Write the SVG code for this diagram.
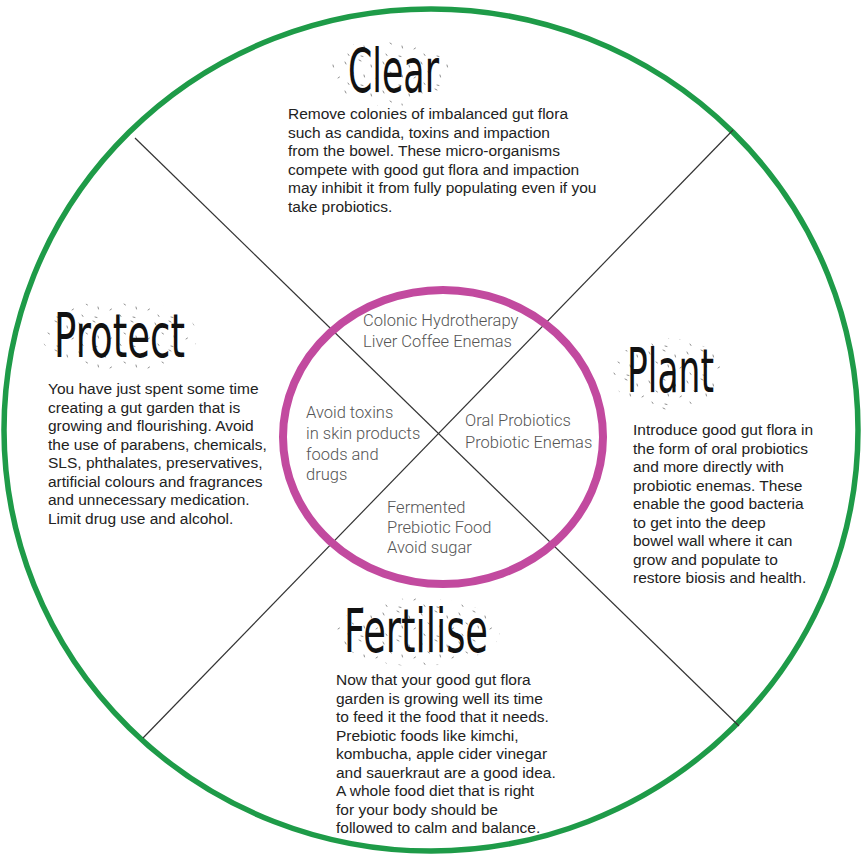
<svg xmlns="http://www.w3.org/2000/svg" width="865" height="860" viewBox="0 0 865 860">
<style>
.body{font-family:"Liberation Sans",Arial,sans-serif;font-size:15.5px;fill:#222;}
.inner{font-family:Roboto,"Open Sans",sans-serif;font-weight:300;font-size:16.5px;fill:#555;}
.title{font-family:"DejaVu Sans",sans-serif;font-size:60px;fill:#111;}
.div{stroke:#333;stroke-width:1.2;fill:none;}
.speck{opacity:0.6;}
</style>
<defs>
<pattern id="speck" width="38" height="29" patternUnits="userSpaceOnUse">
<g stroke="#444" stroke-width="1" stroke-linecap="round">
<line x1="3" y1="4" x2="4" y2="6"/>
<line x1="17" y1="2" x2="19" y2="3"/>
<line x1="29" y1="7" x2="29.5" y2="9"/>
<line x1="10" y1="14" x2="11.5" y2="15"/>
<line x1="22" y1="17" x2="22.5" y2="19"/>
<line x1="34" y1="20" x2="35.5" y2="19"/>
<line x1="6" y1="25" x2="7" y2="26.5"/>
<line x1="19" y1="27" x2="21" y2="27.5"/>
</g>
</pattern>
</defs>
<rect width="865" height="860" fill="#fff"/>
<ellipse cx="431" cy="430" rx="427" ry="421" fill="none" stroke="#1e9b48" stroke-width="5.5"/>
<g id="connectors">
<line class="div" x1="135" y1="138" x2="739" y2="726"/>
<line class="div" x1="733" y1="130" x2="143" y2="738"/>
</g>
<ellipse cx="443" cy="437" rx="160" ry="147" fill="none" stroke="#c24a9f" stroke-width="8"/>
<g id="clear">
<ellipse class="speck" cx="390" cy="72" rx="62" ry="34" fill="url(#speck)"/>
<text class="title" x="348" y="92" textLength="91" lengthAdjust="spacingAndGlyphs">Clear</text>
<text class="body">
<tspan x="288" y="119">Remove colonies of imbalanced gut flora</tspan>
<tspan x="288" y="137.5">such as candida, toxins and impaction</tspan>
<tspan x="288" y="156">from the bowel. These micro-organisms</tspan>
<tspan x="288" y="174.5">compete with good gut flora and impaction</tspan>
<tspan x="288" y="193">may inhibit it from fully populating even if you</tspan>
<tspan x="288" y="211.5">take probiotics.</tspan>
</text>
</g>
<g id="protect">
<ellipse class="speck" cx="120" cy="336" rx="78" ry="36" fill="url(#speck)"/>
<text class="title" x="54" y="357" textLength="131" lengthAdjust="spacingAndGlyphs">Protect</text>
<text class="body">
<tspan x="48" y="394">You have just spent some time</tspan>
<tspan x="48" y="412.5">creating a gut garden that is</tspan>
<tspan x="48" y="431">growing and flourishing. Avoid</tspan>
<tspan x="48" y="449.5">the use of parabens, chemicals,</tspan>
<tspan x="48" y="468">SLS, phthalates, preservatives,</tspan>
<tspan x="48" y="486.5">artificial colours and fragrances</tspan>
<tspan x="48" y="505">and unnecessary medication.</tspan>
<tspan x="48" y="523.5">Limit drug use and alcohol.</tspan>
</text>
</g>
<g id="plant">
<ellipse class="speck" cx="668" cy="374" rx="56" ry="36" fill="url(#speck)"/>
<text class="title" x="627" y="392" textLength="87" lengthAdjust="spacingAndGlyphs">Plant</text>
<text class="body">
<tspan x="633" y="435">Introduce good gut flora in</tspan>
<tspan x="633" y="453.5">the form of oral probiotics</tspan>
<tspan x="633" y="472">and more directly with</tspan>
<tspan x="633" y="490.5">probiotic enemas. These</tspan>
<tspan x="633" y="509">enable the good bacteria</tspan>
<tspan x="633" y="527.5">to get into the deep</tspan>
<tspan x="633" y="546">bowel wall where it can</tspan>
<tspan x="633" y="564.5">grow and populate to</tspan>
<tspan x="633" y="583">restore biosis and health.</tspan>
</text>
</g>
<g id="fertilise">
<ellipse class="speck" cx="418" cy="632" rx="82" ry="34" fill="url(#speck)"/>
<text class="title" x="344" y="652" textLength="144" lengthAdjust="spacingAndGlyphs">Fertilise</text>
<text class="body">
<tspan x="336" y="685">Now that your good gut flora</tspan>
<tspan x="336" y="703.5">garden is growing well its time</tspan>
<tspan x="336" y="722">to feed it the food that it needs.</tspan>
<tspan x="336" y="740.5">Prebiotic foods like kimchi,</tspan>
<tspan x="336" y="759">kombucha, apple cider vinegar</tspan>
<tspan x="336" y="777.5">and sauerkraut are a good idea.</tspan>
<tspan x="336" y="796">A whole food diet that is right</tspan>
<tspan x="336" y="814.5">for your body should be</tspan>
<tspan x="336" y="833">followed to calm and balance.</tspan>
</text>
</g>
<g id="inner-clear">
<text class="inner"><tspan x="363" y="326">Colonic Hydrotherapy</tspan><tspan x="363" y="347">Liver Coffee Enemas</tspan></text>
</g>
<g id="inner-protect">
<text class="inner"><tspan x="306" y="418">Avoid toxins</tspan><tspan x="306" y="439">in skin products</tspan><tspan x="306" y="459.5">foods and</tspan><tspan x="306" y="480">drugs</tspan></text>
</g>
<g id="inner-plant">
<text class="inner"><tspan x="465" y="426">Oral Probiotics</tspan><tspan x="465" y="448">Probiotic Enemas</tspan></text>
</g>
<g id="inner-fertilise">
<text class="inner"><tspan x="387" y="513">Fermented</tspan><tspan x="387" y="533">Prebiotic Food</tspan><tspan x="387" y="553">Avoid sugar</tspan></text>
</g>
</svg>
